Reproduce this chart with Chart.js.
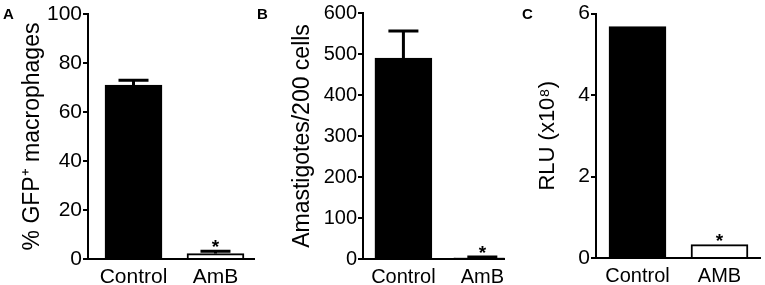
<!DOCTYPE html>
<html>
<head>
<meta charset="utf-8">
<script src="https://cdn.jsdelivr.net/npm/chart.js@4.4.1/dist/chart.umd.min.js"></script>
<style>
  html, body { margin: 0; padding: 0; background: #fff; }
  #wrap { position: relative; width: 765px; height: 285px; overflow: hidden; }
  canvas { position: absolute; top: 0; }
</style>
</head>
<body>
<div id="wrap">
  <canvas id="panelA" width="255" height="285" style="left:0px"></canvas>
  <canvas id="panelB" width="255" height="285" style="left:255px"></canvas>
  <canvas id="panelC" width="255" height="285" style="left:510px"></canvas>
</div>
<script>
// Panel A: % GFP+ macrophages
const categoriesA = ['Control', 'AmB'];
const valuesA = [71, 2.2];
const errorsA = [2, 1];
const starsA = ['', '*'];
const yTicksA = [0, 20, 40, 60, 80, 100];

// Panel B: amastigotes per 200 cells
const categoriesB = ['Control', 'AmB'];
const valuesB = [490, 3];
const errorsB = [66, 2];
const starsB = ['', '*'];
const yTicksB = [0, 100, 200, 300, 400, 500, 600];

// Panel C: luciferase signal
const categoriesC = ['Control', 'AMB'];
const valuesC = [5.68, 0.33];
const errorsC = [0, 0];
const starsC = ['', '*'];
const yTicksC = [0, 2, 4, 6];

const FONT = "'Liberation Sans', Arial, Helvetica, sans-serif";
Chart.defaults.font.family = FONT;
Chart.defaults.color = '#000';

// error bars (upper half only) and significance stars, drawn from the scales
const markPlugin = {
  id: 'marks',
  afterDatasetsDraw(chart, args, opts) {
    const ctx = chart.ctx;
    const xs = chart.scales.x, ys = chart.scales.y;
    ctx.save();
    ctx.strokeStyle = '#000';
    ctx.fillStyle = '#000';
    opts.values.forEach((v, i) => {
      const x = xs.getPixelForValue(i);
      const e = opts.errors[i] || 0;
      const yTop = ys.getPixelForValue(v + e);
      if (e > 0) {
        ctx.lineWidth = opts.errWidth;
        ctx.beginPath();
        ctx.moveTo(x, ys.getPixelForValue(v));
        ctx.lineTo(x, yTop);
        ctx.moveTo(x - opts.capHalf, yTop);
        ctx.lineTo(x + opts.capHalf, yTop);
        ctx.stroke();
      }
      if (opts.stars[i]) {
        ctx.font = 'bold 19px ' + FONT;
        ctx.textAlign = 'center';
        ctx.textBaseline = 'alphabetic';
        ctx.fillText(opts.stars[i], x, yTop + 2);
      }
    });
    // panel letter
    ctx.font = 'bold 15px ' + FONT;
    ctx.textAlign = 'left';
    ctx.textBaseline = 'alphabetic';
    ctx.fillText(opts.letter, opts.letterX, 19);
    ctx.restore();
  }
};

function makePanel(id, cfg) {
  const ctx = document.getElementById(id).getContext('2d');
  return new Chart(ctx, {
    type: 'bar',
    data: {
      datasets: [{
        data: cfg.values.map((v, i) => ({ x: i, y: v })),
        backgroundColor: ['#000', '#fff'],
        borderColor: '#000',
        borderWidth: 2,
        barThickness: 57
      }]
    },
    options: {
      responsive: false,
      animation: false,
      events: [],
      layout: { padding: { top: cfg.top, left: 0, right: cfg.right, bottom: 0 } },
      plugins: {
        legend: { display: false },
        tooltip: { enabled: false },
        marks: {
          values: cfg.values, errors: cfg.errors, stars: cfg.stars,
          letter: cfg.letter, letterX: cfg.letterX,
          errWidth: 3, capHalf: 15
        }
      },
      scales: {
        x: {
          type: 'linear',
          offset: false,
          min: cfg.xMin,
          max: cfg.xMax,
          grid: { display: false, drawTicks: false, offset: false },
          border: { display: true, color: '#000', width: 2 },
          ticks: {
            autoSkip: false,
            maxRotation: 0,
            padding: 6,
            font: { size: cfg.catSize },
            callback: (v) => cfg.categories[v]
          },
          afterBuildTicks: (s) => { s.ticks = cfg.categories.map((c, i) => ({ value: i })); },
          afterFit: (s) => { s.height = 285 - cfg.bottom; }
        },
        y: {
          min: cfg.yTicks[0],
          max: cfg.yTicks[cfg.yTicks.length - 1],
          grid: { display: true, drawOnChartArea: false, drawTicks: true, tickLength: 5, lineWidth: 2, color: '#000' },
          border: { display: true, color: '#000', width: 2 },
          ticks: { padding: 1, font: { size: cfg.tickSize } },
          afterBuildTicks: (s) => { s.ticks = cfg.yTicks.map(t => ({ value: t })); },
          title: {
            display: true,
            text: cfg.title,
            font: { size: cfg.titleSize },
            padding: { top: cfg.titlePad, bottom: 0 }
          },
          afterFit: (s) => { s.width = cfg.axisX; }
        }
      }
    },
    plugins: [markPlugin]
  });
}

makePanel('panelA', {
  categories: categoriesA, values: valuesA, errors: errorsA, stars: starsA, yTicks: yTicksA,
  title: '% GFP\u207A macrophages', letter: 'A', letterX: 3,
  tickSize: 21, catSize: 21, titleSize: 23,
  axisX: 88, top: 14, bottom: 259, right: 0, xMin: -0.555, xMax: 1.482, titlePad: 19
});
makePanel('panelB', {
  categories: categoriesB, values: valuesB, errors: errorsB, stars: starsB, yTicks: yTicksB,
  title: 'Amastigotes/200 cells', letter: 'B', letterX: 2,
  tickSize: 20, catSize: 20, titleSize: 23,
  axisX: 108, top: 12, bottom: 259, right: 0, xMin: -0.512, xMax: 1.281, titlePad: 34
});
makePanel('panelC', {
  categories: categoriesC, values: valuesC, errors: errorsC, stars: starsC, yTicks: yTicksC,
  title: 'RLU (x10\u2078)', letter: 'C', letterX: 12,
  tickSize: 21, catSize: 20, titleSize: 22,
  axisX: 86, top: 12, bottom: 258, right: 5, xMin: -0.506, xMax: 1.494, titlePad: 25
});
</script>
</body>
</html>
